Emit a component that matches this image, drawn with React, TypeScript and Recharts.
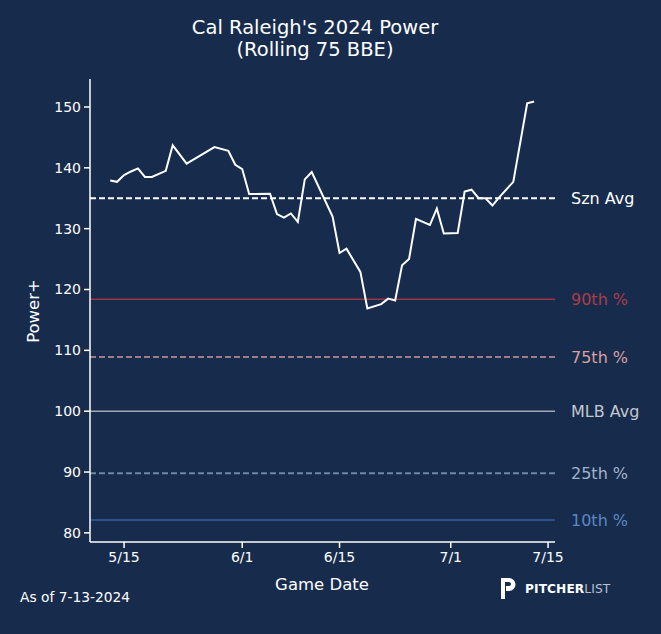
import React from "react"
import {
  LineChart,
  Line,
  XAxis,
  YAxis,
  ReferenceLine
} from "recharts"

// days counted from May 1 (5/15 = 14, 6/1 = 31 ...)
const days = [
  12, 13, 14, 15, 16, 17, 18, 20, 21, 23, 27, 29, 30, 31, 32, 35, 36, 37, 38, 39,
  40, 41, 44, 45, 46, 48, 49, 51, 52, 53, 54, 55, 56, 58, 59, 60, 62, 63, 64, 65,
  66, 67, 68, 70, 72, 73
]

const power = [
  137.9, 137.7, 138.8, 139.4, 139.9, 138.5, 138.5, 139.5, 143.7, 140.7, 143.4, 142.8,
  140.5, 139.8, 135.7, 135.75, 132.4, 131.8, 132.5, 131.1, 138.1, 139.3, 132.0, 126.0,
  126.7, 122.9, 116.9, 117.6, 118.5, 118.2, 124.0, 125.0, 131.6, 130.6, 133.3, 129.2,
  129.3, 136.1, 136.4, 135.0, 135.0, 133.8, 135.2, 137.7, 150.6, 150.9
]

const tickDays = [14, 31, 45, 61, 75]
const tickLabels = ["5/15", "6/1", "6/15", "7/1", "7/15"]
const yTicks = [80, 90, 100, 110, 120, 130, 140, 150]

type Ref = { name: string; value: number; line: string; text: string; dashed: boolean }

const refLines: Ref[] = [
  { name: "Szn Avg", value: 135.0, line: "#ffffff", text: "#ffffff", dashed: true },
  { name: "90th %", value: 118.4, line: "#9b3444", text: "#ad3d47", dashed: false },
  { name: "75th %", value: 108.9, line: "#a07a84", text: "#d9a0a0", dashed: true },
  { name: "MLB Avg", value: 100, line: "#a3a8b0", text: "#c3c7ce", dashed: false },
  { name: "25th %", value: 89.8, line: "#6d87a8", text: "#a3b3c9", dashed: true },
  { name: "10th %", value: 82.1, line: "#2f5f9f", text: "#5b88c2", dashed: false }
]

const BG = "#172b4d"
const FONT = "'DejaVu Sans', sans-serif"

const rows = days.map((d, i) => ({ day: d, power: power[i] }))

export default function App() {
  return (
    <div
      style={{
        position: "fixed",
        left: 0,
        top: 0,
        width: 661,
        height: 634,
        background: BG,
        fontFamily: FONT,
        color: "#ffffff",
        overflow: "hidden"
      }}
    >
      <LineChart
        width={661}
        height={634}
        data={rows}
        margin={{ top: 79, right: 106, bottom: 62, left: 30 }}
      >
        <XAxis
          dataKey="day"
          type="number"
          domain={[9.1, 76]}
          ticks={tickDays}
          tickFormatter={(v: number) => tickLabels[tickDays.indexOf(v)] ?? ""}
          stroke="#ffffff"
          strokeWidth={1.5}
          tickSize={6}
          tickMargin={4}
          tick={{ fill: "#ffffff", fontSize: 14, fontFamily: FONT }}
          height={30}
          allowDataOverflow
        />
        <YAxis
          type="number"
          domain={[78.5, 154.6]}
          ticks={yTicks}
          stroke="#ffffff"
          strokeWidth={1.5}
          tickSize={6}
          tickMargin={3}
          tick={{ fill: "#ffffff", fontSize: 14, fontFamily: FONT }}
          width={60}
          allowDataOverflow
        />
        {refLines.map((r) => (
          <ReferenceLine
            key={r.name}
            y={r.value}
            stroke={r.line}
            strokeWidth={r.dashed ? 2 : 1.5}
            strokeDasharray={r.dashed ? "6 3" : undefined}
            label={{
              value: r.name,
              position: "right",
              offset: 16,
              fill: r.text,
              fontSize: 16,
              fontFamily: FONT
            }}
          />
        ))}
        <Line
          type="linear"
          dataKey="power"
          stroke="#ffffff"
          strokeWidth={2}
          dot={false}
          isAnimationActive={false}
        />
      </LineChart>

      <div
        style={{
          position: "absolute",
          left: 0,
          width: 630,
          top: 17,
          textAlign: "center",
          fontSize: 19.5,
          lineHeight: "22px"
        }}
      >
        Cal Raleigh's 2024 Power
        <br />
        (Rolling 75 BBE)
      </div>

      <div
        style={{
          position: "absolute",
          left: 33,
          top: 311,
          transform: "translate(-50%, -50%) rotate(-90deg)",
          fontSize: 16.5,
          whiteSpace: "nowrap"
        }}
      >
        Power+
      </div>

      <div
        style={{
          position: "absolute",
          left: 322,
          top: 584,
          transform: "translate(-50%, -50%)",
          fontSize: 16.5,
          whiteSpace: "nowrap"
        }}
      >
        Game Date
      </div>

      <div style={{ position: "absolute", left: 20, top: 589, fontSize: 13.8 }}>
        As of 7-13-2024
      </div>

      <div
        style={{
          position: "absolute",
          left: 500,
          top: 577,
          display: "flex",
          alignItems: "center",
          gap: 8
        }}
      >
        <svg width={17} height={23} viewBox="0 0 17 23">
          <path
            d="M1 1 H9 A6.5 6.5 0 0 1 9 14 H6 V9 H9 A2 2 0 0 0 9 5 H5 V22 H1 Z"
            fill="#ffffff"
          />
        </svg>
        <span style={{ fontSize: 12.2, letterSpacing: 0.1 }}>
          <span style={{ fontWeight: 700, color: "#ffffff" }}>PITCHER</span>
          <span style={{ color: "#b8c0cc" }}>LIST</span>
        </span>
      </div>
    </div>
  )
}
